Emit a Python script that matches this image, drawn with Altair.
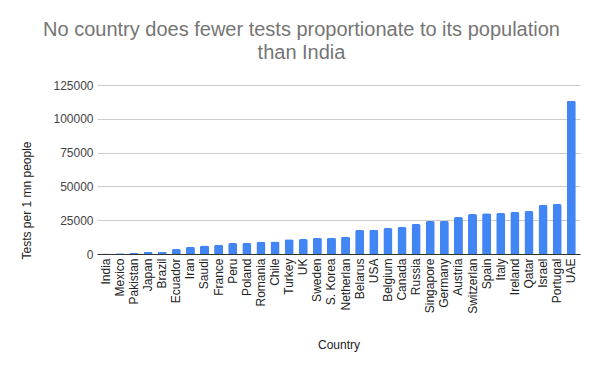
import altair as alt
import pandas as pd

countries = ["India", "Mexico", "Pakistan", "Japan", "Brazil", "Ecuador", "Iran", "Saudi",
             "France", "Peru", "Poland", "Romania", "Chile", "Turkey", "UK", "Sweden",
             "S. Korea", "Netherlan", "Belarus", "USA", "Belgium", "Canada", "Russia",
             "Singapore", "Germany", "Austria", "Switzerlan", "Spain", "Italy", "Ireland",
             "Qatar", "Israel", "Portugal", "UAE"]
tests = [450, 600, 650, 1400, 1500, 3700, 5400, 6200,
         6900, 8100, 8200, 9100, 9200, 11000, 11100, 12000,
         12100, 12700, 17800, 17900, 19200, 20000, 22200,
         24400, 24500, 27300, 29600, 30200, 30300, 31100,
         31800, 36300, 37000, 113300]

df = pd.DataFrame({"Country": countries, "Tests": tests})

chart = alt.Chart(df).mark_bar(
    color="#4285F4", cornerRadiusTopLeft=2, cornerRadiusTopRight=2
).encode(
    x=alt.X("Country:N", sort=countries, title="Country",
            scale=alt.Scale(paddingInner=0.36, paddingOuter=0.3),
            axis=alt.Axis(labelAngle=-90, labelFontSize=12, labelColor="#222222",
                          labelFont="Liberation Sans", titleFont="Liberation Sans",
                          titleFontSize=12, titleFontWeight="normal", titleColor="#222222",
                          ticks=False, domainColor="#333333", labelPadding=4,
                          titlePadding=26)),
    y=alt.Y("Tests:Q", title="Tests per 1 mn people",
            scale=alt.Scale(domain=[0, 125000]),
            axis=alt.Axis(values=[0, 25000, 50000, 75000, 100000, 125000], format="d",
                          labelFontSize=12, labelColor="#444444", labelFont="Liberation Sans",
                          titleFont="Liberation Sans", titleFontSize=12,
                          titleFontWeight="normal", titleColor="#222222",
                          ticks=False, domain=False, gridColor="#cccccc",
                          labelPadding=4, titlePadding=19, titleY=115)),
).properties(
    width=483, height=169,
    autosize=alt.AutoSizeParams(type="none"),
    title=alt.TitleParams(
        ["No country does fewer tests proportionate to its population", "than India"],
        font="Liberation Sans", fontSize=20, fontWeight="normal", color="#757575",
        anchor="middle", dx=-37, lineHeight=23, offset=16),
    padding={"left": 89, "top": 77, "right": 12, "bottom": 109},
).configure_view(stroke=None)

chart.save("out.html", embed_options={"renderer": "svg", "actions": False})
